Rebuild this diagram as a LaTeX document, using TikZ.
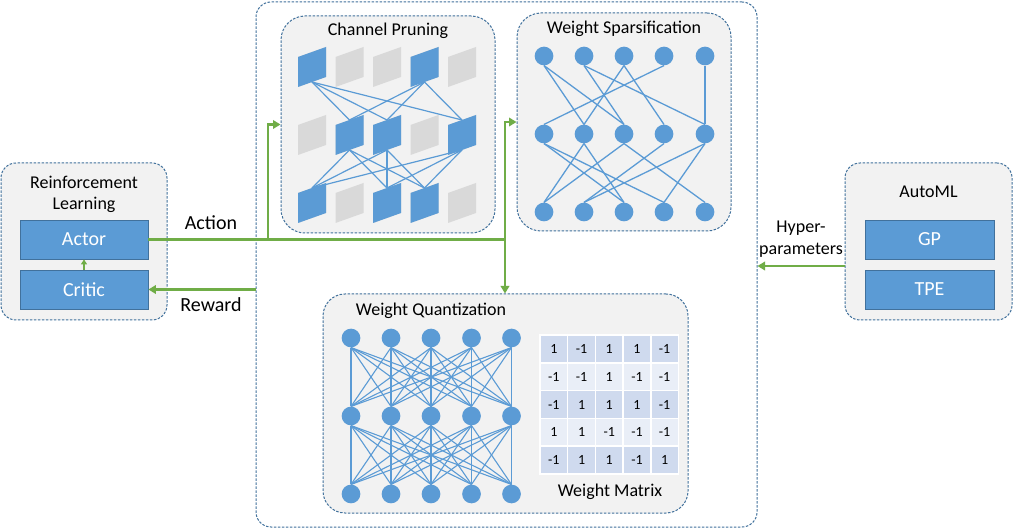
\documentclass[tikz,border=0pt]{standalone}
\usepackage{fontspec}
\setmainfont{Carlito}
\usetikzlibrary{arrows.meta}
\definecolor{boxblue}{HTML}{5B9BD5}
\definecolor{edgeblue}{HTML}{41719C}
\definecolor{panelgray}{HTML}{F2F2F2}
\definecolor{chgray}{HTML}{D9D9D9}
\definecolor{arrowgreen}{HTML}{70AD47}
\definecolor{celldark}{HTML}{CFDAEE}
\definecolor{celllight}{HTML}{E9EEF7}

% feature map (parallelogram) in the channel pruning panel
\newcommand{\fmap}[3]{%
  \fill[#3] ({298+37.5*(#2-1)},{57+68*(#1-1)}) -- ++(0,30) -- ++(28,-10) -- ++(0,-30) -- cycle;
  \coordinate (c-#1-#2-t) at ({312+37.5*(#2-1)},{52+68*(#1-1)});
  \coordinate (c-#1-#2-b) at ({312+37.5*(#2-1)},{82+68*(#1-1)});
}

\tikzset{
  panel/.style={draw=edgeblue, fill=panelgray, line width=1pt,
    dash pattern=on 2.5pt off 1.5pt, inner sep=0pt},
  title/.style={font=\fontsize{18}{21.5}\selectfont, align=center},
  block/.style={draw=edgeblue, fill=boxblue, line width=0.8pt, text=white,
    font=\fontsize{20}{24}\selectfont, minimum width=128pt, minimum height=39pt, inner sep=0pt},
  unit/.style={circle, fill=boxblue, minimum size=18.7pt, inner sep=0pt},
  wire/.style={draw=boxblue, line width=1.3pt},
  flowline/.style={draw=arrowgreen, line width=2.5pt},
  flow/.style={flowline, -{Triangle[length=7.5pt,width=8.5pt]}},
  cell/.style={draw=white, line width=1.5pt, minimum width=27.7pt, minimum height=27.8pt,
    inner sep=0pt, font=\fontsize{14}{16}\selectfont},
}

\begin{document}
\begin{tikzpicture}[x=1pt, y=-1pt]
    \useasboundingbox (0,0) rectangle (1013,529);

    % Panels
    \node[panel, fill=white, rounded corners=15pt, minimum width=501pt, minimum height=525pt] (outer) at (506.5,264.5) {};
    \node[panel, rounded corners=24pt, minimum width=214pt, minimum height=217pt] (chan) at (388,124.5) {};
    \node[panel, rounded corners=24pt, minimum width=214pt, minimum height=218pt] (spars) at (624,122) {};
    \node[panel, rounded corners=22pt, minimum width=365pt, minimum height=219pt] (quant) at (505.5,403.5) {};
    \node[panel, rounded corners=15pt, minimum width=166pt, minimum height=157pt] (rl) at (84,241.5) {};
    \node[panel, rounded corners=15pt, minimum width=167pt, minimum height=157pt] (automl) at (928.5,241.5) {};

    % Titles
    \node[title] (chan-title) at (388,31) {Channel Pruning};
    \node[title] (spars-title) at (624,29) {Weight Sparsification};
    \node[title] (quant-title) at (431,311) {Weight Quantization};
    \node[title] (matrix-title) at (610,492) {Weight Matrix};
    \node[title] (rl-title) at (84,194.5) {Reinforcement\\Learning};
    \node[title] (automl-title) at (928.5,192) {AutoML};

    % Blocks
    \node[block] (actor) at (84,239.5) {Actor};
    \node[block] (critic) at (84,289.5) {Critic};
    \node[block, minimum width=129pt] (gp) at (929.5,239.5) {GP};
    \node[block, minimum width=129pt] (tpe) at (929.5,289.5) {TPE};

    % Channel pruning
    \foreach \r in {1,2,3}
      \foreach \c in {1,...,5}
        \fmap{\r}{\c}{chgray};
    \foreach \r/\c in {1/1,1/4,2/2,2/3,2/5,3/1,3/3,3/4}
      \fmap{\r}{\c}{boxblue};
    \foreach \a in {1,4}
      \foreach \b in {2,3,5}
        \draw[wire, line width=1.2pt] (c-1-\a-b) -- (c-2-\b-t);
    \foreach \a in {2,3,5}
      \foreach \b in {1,3,4}
        \draw[wire, line width=1.2pt] (c-2-\a-b) -- (c-3-\b-t);

    % Weight sparsification
    \foreach \x [count=\c] in {544,584,624,664,705}
      \foreach \y [count=\r] in {56,134,212}
        \node[unit] (s-\r-\c) at (\x,\y) {};
    \foreach \a/\b in {1/2,1/3,2/3,2/5,3/2,3/4,4/1,5/5}
      \draw[wire] (s-1-\a.south) -- (s-2-\b.north);
    \foreach \a/\b in {1/3,1/4,2/1,2/3,3/1,3/5,4/2,5/2,5/4}
      \draw[wire] (s-2-\a.south) -- (s-3-\b.north);

    % Weight quantization
    \foreach \x [count=\c] in {351,391,431,471.5,511.5}
      \foreach \y [count=\r] in {338,416,494}
        \node[unit] (q-\r-\c) at (\x,\y) {};
    \foreach \a in {1,...,5}
      \foreach \b in {1,...,5} {
        \draw[wire, line width=1.1pt] (q-1-\a.south) -- (q-2-\b.north);
        \draw[wire, line width=1.1pt] (q-2-\a.south) -- (q-3-\b.north);
      }

    % Weight matrix
    \foreach \r/\shade/\vals in {1/celldark/{1,-1,1,1,-1}, 2/celllight/{-1,-1,1,-1,-1},
        3/celldark/{-1,1,1,1,-1}, 4/celllight/{1,1,-1,-1,-1}, 5/celldark/{-1,1,1,-1,1}}
      \foreach \v [count=\c] in \vals
        \node[cell, fill=\shade] (m-\r-\c) at ({526.15+27.7*\c},{321.1+27.8*\r}) {\v};

    % Arrows
    \coordinate (split) at (268,239.5);
    \coordinate (junc) at (505,239.5);
    \coordinate (hyp) at (845,266);
    \draw[flowline] (actor.east) -- (junc);
    \draw[flow] (split) |- (chan.west);
    \draw[flow] (junc) |- (spars.west);
    \draw[flow] (junc) -- (junc |- quant.north);
    \draw[flow] (outer.west |- critic.east) -- (critic.east);
    \draw[flow, line width=2pt, -{Triangle[length=5pt,width=6pt]}] (critic.north) -- (actor.south);
    \draw[flow] (hyp) -- (hyp -| outer.east);

    % Arrow labels
    \node[font=\fontsize{20}{24}\selectfont] (action) at (211,223) {Action};
    \node[font=\fontsize{20}{24}\selectfont] (reward) at (211,305) {Reward};
    \node[title] (hyper) at (801,239) {Hyper-\\parameters};

\end{tikzpicture}
\end{document}
